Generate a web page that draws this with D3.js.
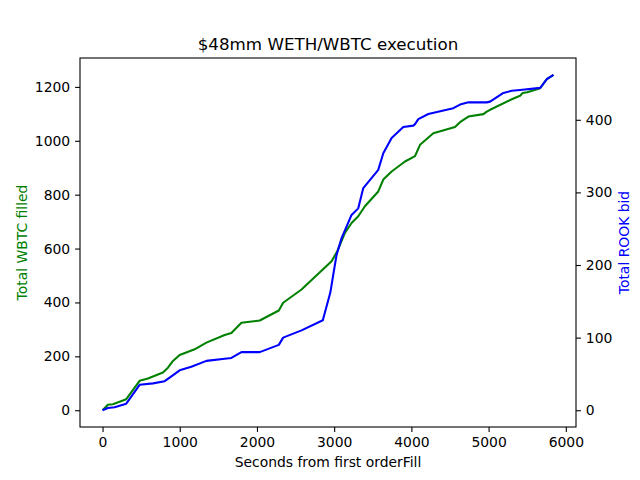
<!DOCTYPE html>
<html>
<head>
<meta charset="utf-8">
<script src="https://cdn.jsdelivr.net/npm/d3@7"></script>
<style>
  body { margin: 0; background: #fff; }
  text { font-family: "DejaVu Sans", sans-serif; }
</style>
</head>
<body>
<svg id="chart" width="640" height="480"></svg>
<script>
// WBTC filled (left axis)
const wbtcSeconds = [0, 69, 134, 307, 480, 588, 782, 847, 912, 999, 1193, 1345, 1582, 1669, 1799, 2036, 2283, 2339, 2577, 2966, 3040, 3139, 3225, 3312, 3398, 3571, 3636, 3744, 3917, 4047, 4112, 4284, 4565, 4630, 4738, 4933, 4976, 5019, 5300, 5408, 5439, 5500, 5668, 5754, 5840];
const wbtcFilled = [0, 20, 22, 41, 109, 118, 140, 158, 183, 205, 226, 251, 279, 287, 325, 333, 370, 399, 448, 553, 590, 658, 695, 720, 757, 812, 856, 886, 923, 943, 985, 1028, 1051, 1069, 1090, 1099, 1108, 1115, 1154, 1167, 1177, 1180, 1195, 1229, 1245];

// ROOK bid (right axis)
const rookSeconds = [0, 69, 156, 307, 480, 653, 804, 869, 999, 1150, 1345, 1582, 1669, 1799, 2036, 2283, 2339, 2577, 2853, 2950, 3009, 3031, 3096, 3225, 3312, 3377, 3571, 3636, 3744, 3895, 4025, 4047, 4090, 4219, 4543, 4630, 4738, 4976, 5019, 5192, 5300, 5408, 5668, 5754, 5840];
const rookBid = [0, 3, 4, 9, 35, 37, 40, 45, 55, 60, 68, 71, 72, 80, 80, 90, 100, 110, 124, 162, 200, 214, 237, 269, 278, 306, 331, 354, 375, 390, 392, 394, 401, 408, 416, 421, 424, 424, 425, 437, 440, 441, 444, 456, 462];

const xTicks = [0, 1000, 2000, 3000, 4000, 5000, 6000];
const leftTicks = [0, 200, 400, 600, 800, 1000, 1200];
const rightTicks = [0, 100, 200, 300, 400];

const margin = { left: 80, right: 64, top: 58, bottom: 53 };
const W = 640, H = 480;
const iw = W - margin.left - margin.right;
const ih = H - margin.top - margin.bottom;

const svg = d3.select("#chart");
const g = svg.append("g").attr("transform", `translate(${margin.left},${margin.top})`);

// matplotlib style 5% margins
const pad = (lo, hi) => { let d = (hi - lo) * 0.05; return [lo - d, hi + d]; };

let x = d3.scaleLinear().domain(pad(0, d3.max(wbtcSeconds))).range([0, iw]);
let yL = d3.scaleLinear().domain(pad(0, d3.max(wbtcFilled))).range([ih, 0]);
let yR = d3.scaleLinear().domain(pad(0, d3.max(rookBid))).range([ih, 0]);

let wbtcData = wbtcSeconds.map((s, i) => [s, wbtcFilled[i]]);
let rookData = rookSeconds.map((s, i) => [s, rookBid[i]]);

g.append("path")
  .datum(wbtcData)
  .attr("fill", "none")
  .attr("stroke", "green")
  .attr("stroke-width", 2.08)
  .attr("stroke-linejoin", "round")
  .attr("d", d3.line().x(d => x(d[0])).y(d => yL(d[1])));

g.append("path")
  .datum(rookData)
  .attr("fill", "none")
  .attr("stroke", "blue")
  .attr("stroke-width", 2.08)
  .attr("stroke-linejoin", "round")
  .attr("d", d3.line().x(d => x(d[0])).y(d => yR(d[1])));

// frame
g.append("rect")
  .attr("width", iw).attr("height", ih)
  .attr("fill", "none").attr("stroke", "black").attr("stroke-width", 1.1);

let styleAxis = (sel) => {
  sel.select(".domain").remove();
  sel.selectAll(".tick line").attr("stroke", "black").attr("stroke-width", 1.1);
  sel.selectAll(".tick text").attr("fill", "black").style("font-size", "13.9px").style("font-family", "DejaVu Sans");
};

g.append("g")
  .attr("transform", `translate(0,${ih})`)
  .call(d3.axisBottom(x).tickValues(xTicks).tickFormat(d3.format("d")).tickSize(4.9).tickPadding(4.9))
  .call(styleAxis);

g.append("g")
  .call(d3.axisLeft(yL).tickValues(leftTicks).tickFormat(d3.format("d")).tickSize(4.9).tickPadding(4.9))
  .call(styleAxis);

g.append("g")
  .attr("transform", `translate(${iw},0)`)
  .call(d3.axisRight(yR).tickValues(rightTicks).tickFormat(d3.format("d")).tickSize(4.9).tickPadding(4.9))
  .call(styleAxis);

svg.append("text")
  .attr("x", margin.left + iw / 2).attr("y", 50)
  .attr("text-anchor", "middle")
  .style("font-size", "16.7px")
  .text("$48mm WETH/WBTC execution");

svg.append("text")
  .attr("x", margin.left + iw / 2).attr("y", 467)
  .attr("text-anchor", "middle")
  .style("font-size", "13.9px")
  .text("Seconds from first orderFill");

svg.append("text")
  .attr("transform", `translate(27,${margin.top + ih / 2}) rotate(-90)`)
  .attr("text-anchor", "middle")
  .attr("fill", "green")
  .style("font-size", "13.9px")
  .text("Total WBTC filled");

svg.append("text")
  .attr("transform", `translate(629,${margin.top + ih / 2}) rotate(-90)`)
  .attr("text-anchor", "middle")
  .attr("fill", "blue")
  .style("font-size", "13.9px")
  .text("Total ROOK bid");
</script>
</body>
</html>
